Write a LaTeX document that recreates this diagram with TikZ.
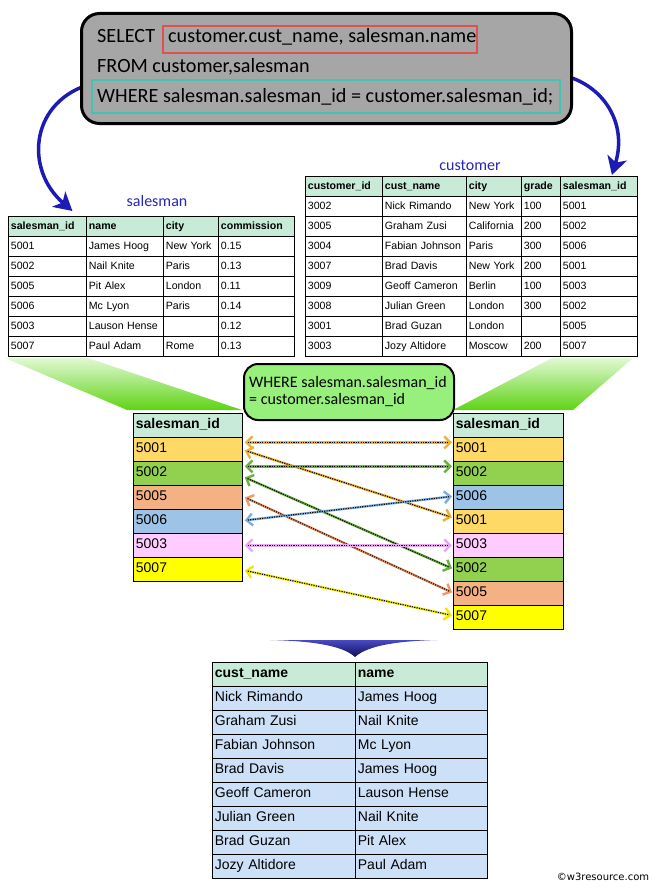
\documentclass[tikz,border=0pt]{standalone}
\usepackage{fontspec}
\setmainfont{Liberation Sans}
\newfontfamily\gill{Carlito}
\newfontfamily\dejavu{DejaVu Sans}
\usetikzlibrary{arrows.meta,calc,backgrounds}

\definecolor{mint}{HTML}{C8EBD8}
\definecolor{c5001}{HTML}{FFD966}
\definecolor{c5002}{HTML}{92D050}
\definecolor{c5005}{HTML}{F4B183}
\definecolor{c5006}{HTML}{9DC3E6}
\definecolor{c5003}{HTML}{FFCCFF}
\definecolor{c5007}{HTML}{FFFF00}
\definecolor{rowblue}{HTML}{CCE0F8}
\definecolor{arrowblue}{HTML}{1C1CB4}
\definecolor{sqlgray}{HTML}{A6A6A6}
\definecolor{labelblue}{HTML}{2626B4}
\definecolor{wgreen}{HTML}{98F07C}
\definecolor{wedgetop}{HTML}{E2F8D4}
\definecolor{wedgebot}{HTML}{5ED414}
\definecolor{redbox}{HTML}{E05050}
\definecolor{tealbox}{HTML}{40C4B4}
\definecolor{lOrange}{HTML}{F0B030}
\definecolor{lGreen}{HTML}{6CB040}
\definecolor{lSalmon}{HTML}{F09868}
\definecolor{lBlue}{HTML}{7FAEDD}
\definecolor{lPink}{HTML}{E8A8F0}
\definecolor{lYellow}{HTML}{F0E800}

\tikzset{
  cellbox/.style={draw=black, line width=0.8pt, anchor=north west, inner xsep=2.5pt, inner ysep=0pt, align=left},
  smallhdr/.style={fill=mint, font=\fontsize{10.6}{13}\selectfont\bfseries},
  smallrow/.style={fill=white, font=\fontsize{10.6}{13}\selectfont},
  bighdr/.style={fill=mint, font=\fontsize{14}{14}\selectfont\bfseries},
  bigrow/.style={font=\fontsize{14}{14}\selectfont},
  tlabel/.style={font=\gill\fontsize{16}{18}\selectfont, text=labelblue, inner sep=0pt},
  sqltext/.style={font=\gill\fontsize{20.2}{24}\selectfont, anchor=base west, inner sep=0pt},
  wtext/.style={font=\gill\fontsize{16}{16}\selectfont, anchor=base west, inner sep=0pt},
  bluearrow/.style={line width=3.5pt, draw=arrowblue, -{Stealth[length=18pt,width=20pt,inset=5pt]}},
  linkbase/.style={line width=2.4pt, draw=#1, {Straight Barb[length=6pt,width=12pt]}-{Straight Barb[length=6pt,width=12pt]}},
  linkdots/.style={line width=1.1pt, draw=black, dash pattern=on 1.2pt off 1.2pt, shorten <=3pt, shorten >=3pt}
}

% name, x1, y1, x2, y2, style, text
\newcommand\mycell[7]{%
  \pgfmathsetmacro\cw{#4-#2}%
  \pgfmathsetmacro\ch{#5-#3}%
  \pgfmathsetmacro\tw{#4-#2-5}%
  \node[cellbox, #6, minimum width=\cw pt, minimum height=\ch pt, text width=\tw pt] (#1) at (#2,#3) {\mbox{\strut #7}};}

\newcommand\mylink[3]{%
  \draw[linkbase=#1] #2 -- #3;
  \draw[linkdots] #2 -- #3;}

\begin{document}
\begin{tikzpicture}[x=1pt,y=-1pt]
\useasboundingbox (0,0) rectangle (661,891);

% green wedges
\shade[top color=wedgetop, bottom color=wedgebot] (5,358) -- (88,358) -- (242,410) -- (127,410) -- cycle;
\shade[top color=wedgetop, bottom color=wedgebot] (552,358) -- (633,358) -- (573,410) -- (453,410) -- cycle;

% ---------- salesman table ----------
\node[tlabel] (lblsales) at (157,201) {salesman};
\mycell{sh1}{8}{216}{86}{236}{smallhdr}{salesman\_id}
\mycell{sh2}{86}{216}{163}{236}{smallhdr}{name}
\mycell{sh3}{163}{216}{218}{236}{smallhdr}{city}
\mycell{sh4}{218}{216}{294}{236}{smallhdr}{commission}
\foreach \i/\a/\b/\c/\d in {1/5001/James Hoog/New York/0.15, 2/5002/Nail Knite/Paris/0.13, 3/5005/Pit Alex/London/0.11, 4/5006/Mc Lyon/Paris/0.14, 5/5003/Lauson Hense/{}/0.12, 6/5007/Paul Adam/Rome/0.13}{
  \pgfmathsetmacro\ya{216+20*\i}
  \pgfmathsetmacro\yb{236+20*\i}
  \mycell{s\i a}{8}{\ya}{86}{\yb}{smallrow}{\a}
  \mycell{s\i b}{86}{\ya}{163}{\yb}{smallrow}{\b}
  \mycell{s\i c}{163}{\ya}{218}{\yb}{smallrow}{\c}
  \mycell{s\i d}{218}{\ya}{294}{\yb}{smallrow}{\d}
}

% ---------- customer table ----------
\node[tlabel] (lblcust) at (470,165) {customer};
\mycell{ch1}{305}{176}{382}{196}{smallhdr}{customer\_id}
\mycell{ch2}{382}{176}{466}{196}{smallhdr}{cust\_name}
\mycell{ch3}{466}{176}{521}{196}{smallhdr}{city}
\mycell{ch4}{521}{176}{560}{196}{smallhdr}{grade}
\mycell{ch5}{560}{176}{637}{196}{smallhdr}{salesman\_id}
\foreach \i/\a/\b/\c/\d/\e in {1/3002/Nick Rimando/New York/100/5001, 2/3005/Graham Zusi/California/200/5002, 3/3004/Fabian Johnson/Paris/300/5006, 4/3007/Brad Davis/New York/200/5001, 5/3009/Geoff Cameron/Berlin/100/5003, 6/3008/Julian Green/London/300/5002, 7/3001/Brad Guzan/London/{}/5005, 8/3003/Jozy Altidore/Moscow/200/5007}{
  \pgfmathsetmacro\ya{176+20*\i}
  \pgfmathsetmacro\yb{196+20*\i}
  \mycell{c\i a}{305}{\ya}{382}{\yb}{smallrow}{\a}
  \mycell{c\i b}{382}{\ya}{466}{\yb}{smallrow}{\b}
  \mycell{c\i c}{466}{\ya}{521}{\yb}{smallrow}{\c}
  \mycell{c\i d}{521}{\ya}{560}{\yb}{smallrow}{\d}
  \mycell{c\i e}{560}{\ya}{637}{\yb}{smallrow}{\e}
}

% ---------- SQL box ----------
\node[draw=black, line width=3pt, rounded corners=18pt, fill=sqlgray, minimum width=490pt, minimum height=110pt, anchor=north west] (sql) at (80,12) {};
\begin{scope}[on background layer]
\draw[bluearrow] ([xshift=6pt,yshift=-17pt]sql.west) .. controls (30,105) and (25,170) .. ([xshift=25pt,yshift=5pt]sh1.north);
\draw[bluearrow] ([xshift=-6pt,yshift=-8pt]sql.east) .. controls (602,86) and (628,122) .. ([xshift=13pt,yshift=1pt]ch5.north);
\end{scope}
\draw[redbox, line width=2pt] (163,26) rectangle (477,53);
\draw[tealbox, line width=2pt] (92,80) rectangle (560,113);
\node[sqltext] (sql1) at (97,43) {SELECT};
\node[sqltext] (sql1b) at (168,43) {customer.cust\_name, salesman.name};
\node[sqltext] (sql2) at (97,73) {FROM customer,salesman};
\node[sqltext] (sql3) at (97,102) {WHERE salesman.salesman\_id = customer.salesman\_id;};

% ---------- WHERE box ----------
\node[draw=black, line width=2pt, rounded corners=14pt, fill=wgreen, minimum width=210pt, minimum height=56pt, anchor=north west] (wbox) at (243,363) {};
\node[wtext] (w1) at (249,387) {WHERE salesman.salesman\_id};
\node[wtext] (w2) at (249,404) {= customer.salesman\_id};

% ---------- middle left table ----------
\mycell{lh}{133}{413}{242}{437}{bighdr}{salesman\_id}
\foreach \i/\v/\c in {1/5001/c5001, 2/5002/c5002, 3/5005/c5005, 4/5006/c5006, 5/5003/c5003, 6/5007/c5007}{
  \pgfmathsetmacro\ya{413+24*\i}
  \pgfmathsetmacro\yb{437+24*\i}
  \mycell{L\i}{133}{\ya}{242}{\yb}{bigrow, fill=\c}{\v}
}
% ---------- middle right table ----------
\mycell{rh}{453}{413}{563}{437}{bighdr}{salesman\_id}
\foreach \i/\v/\c in {1/5001/c5001, 2/5002/c5002, 3/5006/c5006, 4/5001/c5001, 5/5003/c5003, 6/5002/c5002, 7/5005/c5005, 8/5007/c5007}{
  \pgfmathsetmacro\ya{413+24*\i}
  \pgfmathsetmacro\yb{437+24*\i}
  \mycell{R\i}{453}{\ya}{563}{\yb}{bigrow, fill=\c}{\v}
}

% ---------- links ----------
\mylink{lOrange}{([xshift=2pt,yshift=7pt]L1.east)}{([xshift=-1pt,yshift=7pt]R1.west)}
\mylink{lOrange}{([xshift=2pt,yshift=-1pt]L1.east)}{([xshift=-1pt,yshift=4pt]R4.west)}
\mylink{lGreen}{([xshift=2pt,yshift=7pt]L2.east)}{([xshift=-1pt,yshift=7pt]R2.west)}
\mylink{lGreen}{([xshift=2pt,yshift=-4pt]L2.east)}{([xshift=-1pt,yshift=1pt]R6.west)}
\mylink{lSalmon}{([xshift=2pt,yshift=0pt]L3.east)}{([xshift=-1pt,yshift=1pt]R7.west)}
\mylink{lBlue}{([xshift=2pt,yshift=1pt]L4.east)}{([xshift=-1pt,yshift=1pt]R3.west)}
\mylink{lPink}{([xshift=2pt,yshift=0pt]L5.east)}{([xshift=-1pt,yshift=0pt]R5.west)}
\mylink{lYellow}{([xshift=2pt,yshift=-1pt]L6.east)}{([xshift=-1pt,yshift=2pt]R8.west)}

% ---------- bottom chevron ----------
\shade[top color=arrowblue!80, bottom color=arrowblue!50!black] (270,640) -- (437,640) .. controls (400,641) and (368,645) .. (355,657) .. controls (342,645) and (310,641) .. (270,640) -- cycle;

% ---------- result table ----------
\mycell{bh1}{212}{662}{355}{686}{bighdr}{cust\_name}
\mycell{bh2}{355}{662}{487}{686}{bighdr}{name}
\foreach \i/\a/\b in {1/Nick Rimando/James Hoog, 2/Graham Zusi/Nail Knite, 3/Fabian Johnson/Mc Lyon, 4/Brad Davis/James Hoog, 5/Geoff Cameron/Lauson Hense, 6/Julian Green/Nail Knite, 7/Brad Guzan/Pit Alex, 8/Jozy Altidore/Paul Adam}{
  \pgfmathsetmacro\ya{662+24*\i}
  \pgfmathsetmacro\yb{686+24*\i}
  \mycell{b\i a}{212}{\ya}{355}{\yb}{bigrow, fill=rowblue}{\a}
  \mycell{b\i b}{355}{\ya}{487}{\yb}{bigrow, fill=rowblue}{\b}
}

% watermark
\node[font=\dejavu\fontsize{10}{12}\selectfont, inner sep=0pt] (wm) at (603,877) {©w3resource.com};
\end{tikzpicture}
\end{document}
